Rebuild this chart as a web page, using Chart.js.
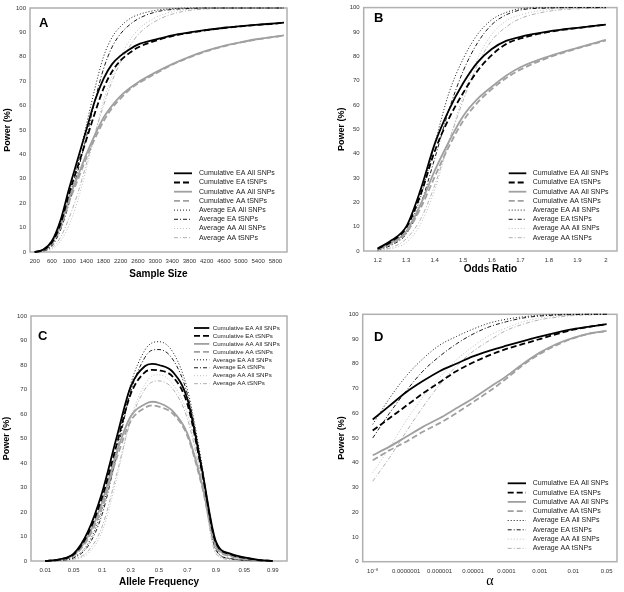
<!DOCTYPE html>
<html>
<head>
<meta charset="utf-8">
<script src="https://cdn.jsdelivr.net/npm/chart.js@4.4.1/dist/chart.umd.min.js"></script>
<style>
  body { margin: 0; background: #fff; }
  canvas { position: absolute; }
</style>
</head>
<body>
<canvas id="chartA" width="312" height="296" style="left:0;top:0"></canvas>
<canvas id="chartB" width="312" height="296" style="left:312px;top:0"></canvas>
<canvas id="chartC" width="312" height="296" style="left:0;top:296px"></canvas>
<canvas id="chartD" width="312" height="296" style="left:312px;top:296px"></canvas>
<script>
// Назви серій (однакові для всіх чотирьох панелей)
const seriesNames = [
  'Cumulative EA All SNPs', 'Cumulative EA tSNPs', 'Cumulative AA All SNPs', 'Cumulative AA tSNPs',
  'Average EA All SNPs', 'Average EA tSNPs', 'Average AA All SNPs', 'Average AA tSNPs'
];

// Панель A: розмір вибірки
const aSizes = [200, 400, 600, 800, 1000, 1200, 1400, 1600, 1800, 2000, 2200, 2400, 2600, 3000, 3400, 3800, 4200, 4600, 5000, 5400, 5800, 6000];
const aTicks = [200, 600, 1000, 1400, 1800, 2200, 2600, 3000, 3400, 3800, 4200, 4600, 5000, 5400, 5800];
const aCumEaAll = [0, 1, 4.5, 13, 26, 38, 50, 62, 71, 77, 80.5, 83, 85, 87, 88.8, 90, 91, 91.9, 92.6, 93.2, 93.7, 94];
const aCumEaT   = [0, 0.8, 4, 11.5, 24, 35, 46, 57, 67, 74, 78.5, 81.5, 83.8, 86.5, 88.5, 89.8, 90.9, 91.8, 92.5, 93.1, 93.6, 94];
const aCumAaAll = [0, 0.8, 4, 11, 22, 31, 40, 48, 55, 60, 64, 67, 69.5, 73.5, 77, 80, 82.5, 84.5, 86, 87.3, 88.3, 88.8];
const aCumAaT   = [0, 0.7, 3.5, 10, 20.5, 29.5, 38.5, 46.5, 53.5, 59, 63, 66.5, 69, 73, 76.8, 79.8, 82.3, 84.3, 85.9, 87.2, 88.2, 88.7];
const aAvgEaAll = [0, 0.5, 3, 10, 22, 36, 52, 67, 80, 88, 92.5, 95.5, 97.2, 99, 99.7, 100, 100, 100, 100, 100, 100, 100];
const aAvgEaT   = [0, 0.4, 2.5, 9, 20, 33, 47, 62, 75, 84, 89.5, 93, 95.5, 98.3, 99.4, 99.8, 100, 100, 100, 100, 100, 100];
const aAvgAaAll = [0, 0.2, 1.2, 4.5, 11, 21, 34, 48, 62, 72, 80, 86.5, 91, 96, 98.5, 99.5, 99.8, 100, 100, 100, 100, 100];
const aAvgAaT   = [0, 0.3, 1.8, 6, 14, 24, 36, 48.5, 60, 70, 78, 84, 89, 94.5, 97.5, 99, 99.6, 99.9, 100, 100, 100, 100];

// Панель B: відношення шансів
const bOdds = [1.2, 1.25, 1.3, 1.35, 1.4, 1.45, 1.5, 1.55, 1.6, 1.65, 1.7, 1.8, 1.9, 2.0];
const bTicks = [1.2, 1.3, 1.4, 1.5, 1.6, 1.7, 1.8, 1.9, 2.0];
const bCumEaAll = [1, 4.5, 10, 25, 44, 58, 69, 77.5, 83, 86.3, 88, 90.2, 91.7, 93];
const bCumEaT   = [0.9, 4, 9.5, 23, 41, 54.5, 65, 74, 80.5, 85, 87.3, 90, 91.6, 93];
const bCumAaAll = [0.7, 3.5, 8, 19, 33, 45, 55.5, 62.5, 67.5, 72, 75.5, 80, 83.5, 86.7];
const bCumAaT   = [0.6, 3.2, 7.5, 17.5, 30.5, 43, 53.5, 61, 66.5, 71, 74.5, 79.5, 83.2, 86.5];
const bAvgEaAll = [0.5, 3, 8, 22, 44, 65, 79, 89, 95, 98, 99.5, 100, 100, 100];
const bAvgEaT   = [0.4, 2.5, 7, 19, 38, 58, 74, 85.5, 93, 97, 99, 99.8, 100, 100];
const bAvgAaAll = [0.2, 1, 3.5, 11, 25, 45, 64, 79, 89, 94.5, 97, 99.2, 99.8, 100];
const bAvgAaT   = [0.3, 1.5, 5, 13, 27, 45, 62, 76.5, 86.5, 92, 95.5, 98.5, 99.5, 99.8];

// Панель C: частота алеля (позиції - індекси підписів)
const cFreqLabels = ['0.01', '0.05', '0.1', '0.3', '0.5', '0.7', '0.9', '0.95', '0.99'];
const cIdx = [0, 0.5, 1, 1.5, 2, 2.5, 3, 3.5, 3.75, 4, 4.5, 5, 5.5, 6, 6.5, 7, 7.5, 8];
const cCumEaAll = [0, 0.7, 3, 12, 28, 50, 71, 79.5, 80.5, 80, 77, 66, 38, 8, 3, 1.5, 0.5, 0];
const cCumEaT   = [0, 0.6, 2.7, 11, 26, 47, 68, 77, 78, 77.8, 75, 64, 37, 7.5, 2.8, 1.3, 0.4, 0];
const cCumAaAll = [0, 0.6, 2.5, 10, 24, 44, 59, 64, 65, 64.5, 61, 52, 32, 6.5, 2.3, 1, 0.3, 0];
const cCumAaT   = [0, 0.5, 2.2, 9, 22, 41.5, 57, 62.5, 63.5, 63, 60, 51, 31, 6, 2, 0.9, 0.3, 0];
const cAvgEaAll = [0, 0.3, 1.5, 7, 21, 46, 72, 86, 89, 89.5, 85, 70, 40, 5, 1, 0.3, 0.1, 0];
const cAvgEaT   = [0, 0.3, 1.3, 6, 19, 43, 69, 83, 86, 86.3, 82, 68, 39, 4.5, 1, 0.3, 0.1, 0];
const cAvgAaAll = [0, 0.1, 0.7, 3, 12, 33, 58, 72, 75.5, 76, 72, 60, 34, 3.5, 0.8, 0.2, 0, 0];
const cAvgAaT   = [0, 0.1, 0.8, 4, 14, 35, 57, 70, 73, 73.5, 70, 58, 33, 3, 0.6, 0.2, 0, 0];

// Панель D: рівень значущості (позиції - індекси підписів)
const dAlphaLabels = ['10⁻⁸', '0.0000001', '0.000001', '0.00001', '0.0001', '0.001', '0.01', '0.05'];
const dIdx = [0, 0.5, 1, 1.5, 2, 2.5, 3, 3.5, 4, 4.5, 5, 5.5, 6, 6.5, 7];
const dCumEaAll = [57.5, 63, 68.5, 73, 77, 80, 83, 85.3, 87.3, 89.2, 91, 92.6, 94, 95, 96];
const dCumEaT   = [53, 58, 63, 68, 72.5, 77, 80.5, 83.5, 86, 88, 90, 92, 93.8, 95, 96];
const dCumAaAll = [43, 46.5, 50.5, 54.5, 58, 62, 66, 70.5, 75, 80, 84.5, 88, 90.5, 92.3, 93.3];
const dCumAaT   = [41, 45, 48.5, 52.5, 56, 60, 64.5, 69, 74, 79.5, 84, 87.5, 90.3, 92.2, 93.2];
const dAvgEaAll = [55.5, 66, 75, 82, 87.5, 91, 94, 96.5, 98, 99, 99.6, 99.9, 100, 100, 100];
const dAvgEaT   = [50, 60, 69, 77, 83, 88, 92, 95, 97, 98.5, 99.3, 99.7, 99.9, 100, 100];
const dAvgAaAll = [36, 46, 57, 66.5, 74.5, 81.5, 87, 91.5, 94.5, 97, 98.5, 99.3, 99.7, 100, 100];
const dAvgAaT   = [32.5, 42, 52.5, 62.5, 71.5, 79, 85, 89.5, 93.5, 96, 97.8, 98.8, 99.5, 99.8, 100];

const FONT = '"Liberation Sans", Arial, sans-serif';
Chart.defaults.font.family = FONT;

// Стилі ліній
const seriesStyles = [
  {borderColor: '#000', borderWidth: 1.8, borderDash: []},
  {borderColor: '#000', borderWidth: 1.8, borderDash: [6, 3]},
  {borderColor: '#a0a0a0', borderWidth: 1.8, borderDash: []},
  {borderColor: '#a0a0a0', borderWidth: 1.8, borderDash: [6, 3]},
  {borderColor: '#000', borderWidth: 0.9, borderDash: [1, 2]},
  {borderColor: '#000', borderWidth: 0.9, borderDash: [4, 2, 1, 2]},
  {borderColor: '#b8b8b8', borderWidth: 0.9, borderDash: [1, 2]},
  {borderColor: '#a8a8a8', borderWidth: 0.9, borderDash: [4, 2, 1, 2]}
];

function buildDatasets(xs, seriesValues) {
  return seriesValues.map((ys, i) => Object.assign({
    label: seriesNames[i],
    data: xs.map((x, j) => ({x: x, y: ys[j]})),
    pointRadius: 0,
    fill: false,
    cubicInterpolationMode: 'monotone',
    clip: 3
  }, seriesStyles[i]));
}

// Рамка, літера панелі та легенда всередині області графіка
const panelDecor = {
  id: 'panelDecor',
  beforeDatasetsDraw(chart) {
    const {ctx, chartArea: a} = chart;
    ctx.save();
    ctx.strokeStyle = '#b0b0b0';
    ctx.lineWidth = 1.5;
    ctx.strokeRect(a.left, a.top, a.width, a.height);
    ctx.restore();
  },
  afterDraw(chart, args, o) {
    const ctx = chart.ctx;
    ctx.save();
    ctx.fillStyle = '#000';
    ctx.textBaseline = 'middle';
    ctx.font = 'bold 13px ' + FONT;
    ctx.fillText(o.letter, o.letterX, o.letterY);
    ctx.font = o.size + 'px ' + FONT;
    chart.data.datasets.forEach((ds, i) => {
      const y = o.y + i * o.gap;
      ctx.strokeStyle = ds.borderColor;
      ctx.lineWidth = ds.borderWidth;
      ctx.setLineDash(ds.borderDash);
      ctx.beginPath();
      ctx.moveTo(o.x, y);
      ctx.lineTo(o.x + o.w, y);
      ctx.stroke();
      ctx.fillStyle = '#222';
      ctx.fillText(ds.label, o.x + o.w + o.pad, y);
    });
    ctx.restore();
  }
};

function yAxis(width, titlePad) {
  return {
    min: 0, max: 100,
    afterFit: s => { s.width = width; },
    grid: {display: false, drawTicks: false},
    border: {display: false},
    ticks: {stepSize: 10, padding: 4, font: {size: 6}, color: '#333'},
    title: {display: true, text: 'Power (%)', color: '#000', font: {size: 9, weight: 'bold'}, padding: {top: titlePad, bottom: 0}}
  };
}

function xAxis(o) {
  return {
    type: 'linear', min: o.min, max: o.max,
    afterFit: s => { s.height = o.height; },
    afterBuildTicks: s => { s.ticks = o.ticks.map(v => ({value: v})); },
    grid: {display: false, drawTicks: false},
    border: {display: false},
    ticks: {autoSkip: false, maxRotation: 0, padding: o.tickPad, font: {size: 6}, color: '#333', callback: o.fmt},
    title: {display: true, text: o.title, color: '#000', font: o.titleFont, padding: {top: 0, bottom: o.titlePad}}
  };
}

function makePanel(id, datasets, x, y, pad, decor) {
  new Chart(document.getElementById(id), {
    type: 'line',
    data: {datasets: datasets},
    options: {
      responsive: false,
      animation: false,
      devicePixelRatio: 1,
      layout: {padding: pad},
      scales: {x: x, y: y},
      plugins: {legend: {display: false}, tooltip: {enabled: false}, panelDecor: decor}
    },
    plugins: [panelDecor]
  });
}

makePanel('chartA',
  buildDatasets(aSizes, [aCumEaAll, aCumEaT, aCumAaAll, aCumAaT, aAvgEaAll, aAvgEaT, aAvgAaAll, aAvgAaT]),
  xAxis({min: 90, max: 6070, ticks: aTicks, fmt: v => String(v), height: 44, tickPad: 6,
         title: 'Sample Size', titleFont: {size: 10, weight: 'bold'}, titlePad: 16}),
  yAxis(30, 2.6),
  {left: 0, top: 8, right: 25, bottom: 0},
  {letter: 'A', letterX: 39, letterY: 23, x: 174, y: 173.3, gap: 9.2, w: 18, pad: 7, size: 7});

makePanel('chartB',
  buildDatasets(bOdds, [bCumEaAll, bCumEaT, bCumAaAll, bCumAaT, bAvgEaAll, bAvgEaT, bAvgAaAll, bAvgAaT]),
  xAxis({min: 1.151, max: 2.039, ticks: bTicks, fmt: v => String(Math.round(v * 10) / 10), height: 45, tickPad: 5.5,
         title: 'Odds Ratio', titleFont: {size: 10, weight: 'bold'}, titlePad: 20.7}),
  yAxis(51.7, 24.6),
  {left: 0, top: 5, right: 7, bottom: 0},
  {letter: 'B', letterX: 62, letterY: 18, x: 196.7, y: 173.3, gap: 9.2, w: 17.6, pad: 6.4, size: 7});

makePanel('chartC',
  buildDatasets(cIdx, [cCumEaAll, cCumEaT, cCumAaAll, cCumAaT, cAvgEaAll, cAvgEaT, cAvgAaAll, cAvgAaT]),
  xAxis({min: -0.5, max: 8.5, ticks: cFreqLabels.map((l, i) => i), fmt: (v, i) => cFreqLabels[i], height: 31, tickPad: 6,
         title: 'Allele Frequency', titleFont: {size: 10, weight: 'bold'}, titlePad: 4}),
  yAxis(31, 1.3),
  {left: 0, top: 20, right: 25, bottom: 0},
  {letter: 'C', letterX: 38, letterY: 40, x: 194, y: 32, gap: 7.95, w: 15.3, pad: 3.4, size: 6.2});

makePanel('chartD',
  buildDatasets(dIdx, [dCumEaAll, dCumEaT, dCumAaAll, dCumAaT, dAvgEaAll, dAvgEaT, dAvgAaAll, dAvgAaT]),
  xAxis({min: -0.3, max: 7.31, ticks: dAlphaLabels.map((l, i) => i), fmt: (v, i) => dAlphaLabels[i], height: 30.3, tickPad: 6.5,
         title: 'α', titleFont: {size: 14, family: '"Liberation Serif", "Times New Roman", serif'}, titlePad: 1.9}),
  yAxis(50.7, 24.6),
  {left: 0, top: 18.3, right: 7, bottom: 0},
  {letter: 'D', letterX: 62, letterY: 41, x: 195.7, y: 187.3, gap: 9.3, w: 18.3, pad: 6.7, size: 7});
</script>
</body>
</html>
